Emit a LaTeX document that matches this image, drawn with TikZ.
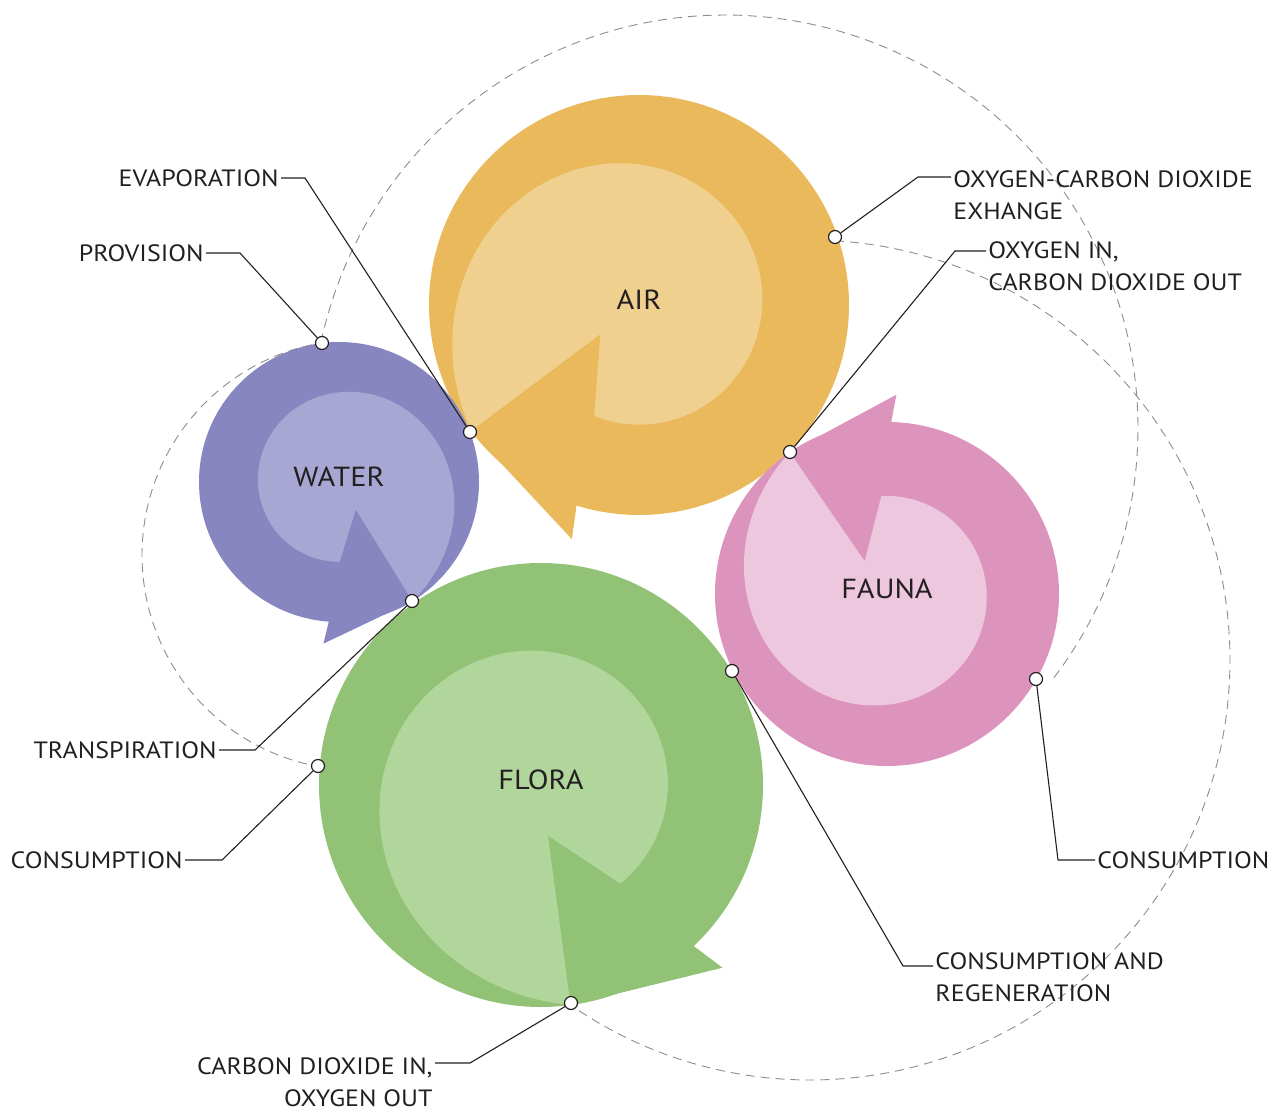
\documentclass[tikz,border=0pt]{standalone}
\usepackage{fontspec}
\setmainfont{PT Sans}[FakeStretch=1.1]
\usetikzlibrary{calc}

\definecolor{airdark}{HTML}{EAB95B}
\definecolor{airlight}{HTML}{F0D08F}
\definecolor{waterdark}{HTML}{8786C0}
\definecolor{waterlight}{HTML}{A8A7D3}
\definecolor{faunadark}{HTML}{DD94BC}
\definecolor{faunalight}{HTML}{EDC7DE}
\definecolor{floradark}{HTML}{91C275}
\definecolor{floralight}{HTML}{B1D69C}
\definecolor{inkgrey}{HTML}{231F20}

\begin{document}
\begin{tikzpicture}[x=0.5pt,y=-0.5pt,
        dot/.style={circle,draw=inkgrey,fill=white,line width=0.6pt,inner sep=0pt,minimum size=6.5pt},
        lbl/.style={inner sep=1pt,font=\fontsize{11.8}{16}\selectfont,text=inkgrey},
        blobtext/.style={inner sep=0pt,font=\fontsize{13.8}{17}\selectfont,text=inkgrey},
        leader/.style={line width=0.55pt,inkgrey},
        dashline/.style={black!45,line width=0.45pt,dash pattern=on 4.5pt off 3pt}]
        \useasboundingbox (0,0) rectangle (1283,1112);

        % spiral arrows: centre / radius / angle of the back edge / turn / colours
        \foreach \cx/\cy/\rr/\ang/\dd/\dk/\lt/\nm/\txt in {
                639/305/210/-217/-1/airdark/airlight/air/AIR,
                339/482/140/58.5/1/waterdark/waterlight/water/WATER,
                887/594/172/-124.3/1/faunadark/faunalight/fauna/FAUNA,
                541/785/222/-277.8/-1/floradark/floralight/flora/FLORA} {
        \begin{scope}[shift={(\cx,\cy)}]
                \fill[\dk] (0,0) circle[radius=\rr];
                \fill[\dk] ({\ang}:{0.23*\rr}) -- ({\ang}:{\rr}) -- ({\ang+(\dd)*37}:{1.16*\rr}) -- cycle;
                \fill[\lt] ({\ang}:{0.23*\rr}) -- plot[domain=0:1,samples=90,variable=\t]
                        ({\ang+(\dd)*(31+329*\t)}:{\rr*(0.57+0.43*\t*\t*\t)}) -- cycle;
                \node[blobtext] (\nm) at (0,-5) {\txt};
        \end{scope}
        }

        % dashed cycles
        \draw[dashline] plot[domain=-168:37.7,samples=160] ({725+413*cos(\x)},{428+413*sin(\x)});
        \draw[dashline] plot[domain=-86.6:124.9,samples=160] ({810+420*cos(\x)},{660+420*sin(\x)});
        \draw[dashline] plot[domain=-260.5:-99.4,samples=100] ({357+215*cos(\x)},{555+215*sin(\x)});

        % labels
        \node[lbl,anchor=east] (tevap) at (281,178) {EVAPORATION};
        \node[lbl,anchor=east] (tprov) at (206,253) {PROVISION};
        \node[lbl,anchor=east] (ttrans) at (219,750) {TRANSPIRATION};
        \node[lbl,anchor=east] (tconsl) at (185,860) {CONSUMPTION};
        \node[lbl,anchor=north east,align=right] (tcarb) at (435,1055) {CARBON DIOXIDE IN,\\OXYGEN OUT};
        \node[lbl,anchor=north west,align=left] (tregen) at (933,950) {CONSUMPTION AND\\REGENERATION};
        \node[lbl,anchor=west] (tconsr) at (1095,860) {CONSUMPTION};
        \node[lbl,anchor=north west,align=left] (toxin) at (986,239) {OXYGEN IN,\\CARBON DIOXIDE OUT};
        \node[lbl,anchor=north west,align=left] (texch) at (951,168) {OXYGEN-CARBON DIOXIDE\\EXHANGE};

        % elbows of the leaders
        \coordinate (eevap) at (305,178);
        \coordinate (eprov) at (240,253);
        \coordinate (etrans) at (255,750);
        \coordinate (econsl) at (222,860);
        \coordinate (ecarb) at (470,1063);
        \coordinate (eregen) at (903,966);
        \coordinate (econsr) at (1058,860);
        \coordinate (eoxin) at (955,251);
        \coordinate (eexch) at (918,177);

        % points on the circles
        \node[dot] (devap) at (470,432) {};
        \node[dot] (dprov) at (322,343) {};
        \node[dot] (dtrans) at (412,601) {};
        \node[dot] (dconsl) at (318,766) {};
        \node[dot] (dcarb) at (571,1003) {};
        \node[dot] (dregen) at (732,671) {};
        \node[dot] (dconsr) at (1036,679) {};
        \node[dot] (doxin) at (790,452) {};
        \node[dot] (dexch) at (835,237) {};

        \draw[leader] (tevap.east) -- (eevap) -- (devap);
        \draw[leader] (tprov.east) -- (eprov) -- (dprov);
        \draw[leader] (ttrans.east) -- (etrans) -- (dtrans);
        \draw[leader] (tconsl.east) -- (econsl) -- (dconsl);
        \draw[leader] (dcarb) -- (ecarb) -- (ecarb -| tcarb.east);
        \draw[leader] (dregen) -- (eregen) -- (eregen -| tregen.west);
        \draw[leader] (dconsr) -- (econsr) -- (tconsr.west);
        \draw[leader] (doxin) -- (eoxin) -- (eoxin -| toxin.west);
        \draw[leader] (dexch) -- (eexch) -- (eexch -| texch.west);
\end{tikzpicture}
\end{document}
